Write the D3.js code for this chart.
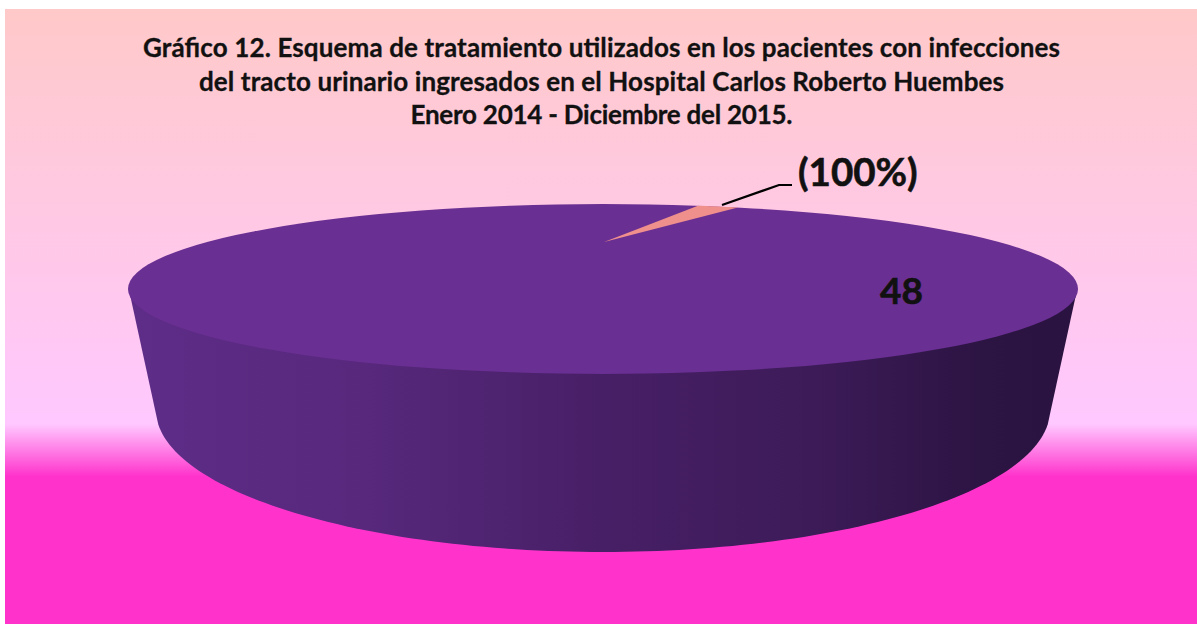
<!DOCTYPE html>
<html><head><meta charset="utf-8">
<script src="https://cdn.jsdelivr.net/npm/d3@7"></script>
<style>html,body{margin:0;padding:0;background:#fff}svg{display:block}</style>
</head><body><svg id="c" width="1197" height="624"></svg>
<script>
const titleLines = ["Gráfico 12. Esquema de tratamiento utilizados en los pacientes con infecciones",
  "del tracto urinario ingresados en el Hospital Carlos Roberto Huembes",
  "Enero 2014 - Diciembre del 2015."];
const categories = ["A","B"];
const values = [48,0.75];
const sliceColors = ["#692f92","#f0908c"];
const labelMain = "48";
const labelPct = "(100%)";

const titleWidths=[917,805,382];
const svg = d3.select("#c");
const defs = svg.append("defs");
const bg = defs.append("linearGradient").attr("id","bg").attr("x1",0).attr("x2",0).attr("y1",0).attr("y2",1);
[[0,"#ffc9c9"],[0.675,"#ffc8ff"],[0.76,"#ff33cc"],[1,"#ff33cc"]].forEach(s=>bg.append("stop").attr("offset",s[0]).attr("stop-color",s[1]));
const wall = defs.append("linearGradient").attr("id","wall");
[[0,"#5e2d88"],[0.25,"#57287c"],[0.5,"#471f66"],[0.72,"#3d1b58"],[0.9,"#2c1443"],[1,"#2a1340"]].forEach(s=>wall.append("stop").attr("offset",s[0]).attr("stop-color",s[1]));
svg.append("rect").attr("x",5).attr("y",9).attr("width",1192).attr("height",615).attr("fill","url(#bg)");

const cx=603, cy=289, rx=475, ry=85;
const topE=[cx,cy,rx,ry], botE=[603,410,447,142];
const ell=(a,c)=>[c[0]+c[2]*Math.cos(a), c[1]+c[3]*Math.sin(a)];
const line=d3.line();
const a0=0.1;
const botAngs=d3.range(0,121).map(i=>a0+(Math.PI-2*a0)*i/120);
const wallPts=botAngs.map(a=>ell(a,botE)).concat([[cx-rx+1,cy+1],[cx+rx-1,cy+1]]);
svg.append("path").attr("d",line(wallPts)+"Z").attr("fill","url(#wall)");
svg.append("ellipse").attr("cx",cx).attr("cy",cy).attr("rx",rx).attr("ry",ry).attr("fill",sliceColors[0]);

// pie slices projected on the tilted top
const apex=[604,242];
const startA=11.7*Math.PI/180;
const arcs=d3.pie().sort(null).startAngle(startA).endAngle(startA+2*Math.PI)(values.slice().reverse());
const s=arcs[0];
function hit(theta){
  const dx=Math.sin(theta)*rx, dy=-Math.cos(theta)*38;
  const px=(apex[0]-cx)/rx, py=(apex[1]-cy)/ry, qx=dx/rx, qy=dy/ry;
  const A=qx*qx+qy*qy,B=2*(px*qx+py*qy),C=px*px+py*py-1;
  const t=(-B+Math.sqrt(B*B-4*A*C))/(2*A);
  return [apex[0]+t*dx,apex[1]+t*dy];
}
const slicePts=[apex].concat(d3.range(0,1.0001,0.1).map(f=>hit(s.startAngle+f*(s.endAngle-s.startAngle))));
svg.append("path").attr("d",line(slicePts)+"Z").attr("fill",sliceColors[1]);

// leader
svg.append("path").attr("d",line([[722,205],[779,185],[792,185]])).attr("fill","none").attr("stroke","#000").attr("stroke-width",2.2);

const font="Lato, Carlito, sans-serif";
svg.append("g").selectAll("text").data(titleLines).join("text")
 .attr("x",601.5).attr("y",(d,i)=>57+i*33.5).attr("text-anchor","middle")
 .attr("textLength",(d,i)=>titleWidths[i]).attr("lengthAdjust","spacing")
 .attr("font-family",font).attr("font-weight",700).attr("font-size",26).attr("fill","#111")
 .attr("stroke","#111").attr("stroke-width",0.3).text(d=>d);
svg.append("text").attr("x",798).attr("y",186).attr("font-family",font).attr("font-weight",700).attr("font-size",38.5).attr("fill","#111").attr("stroke","#111").attr("stroke-width",0.6).text(labelPct);
svg.append("text").attr("x",880).attr("y",304).attr("font-family",font).attr("font-weight",700).attr("font-size",37).attr("fill","#111").attr("stroke","#111").attr("stroke-width",0.6).text(labelMain);
</script></body></html>
